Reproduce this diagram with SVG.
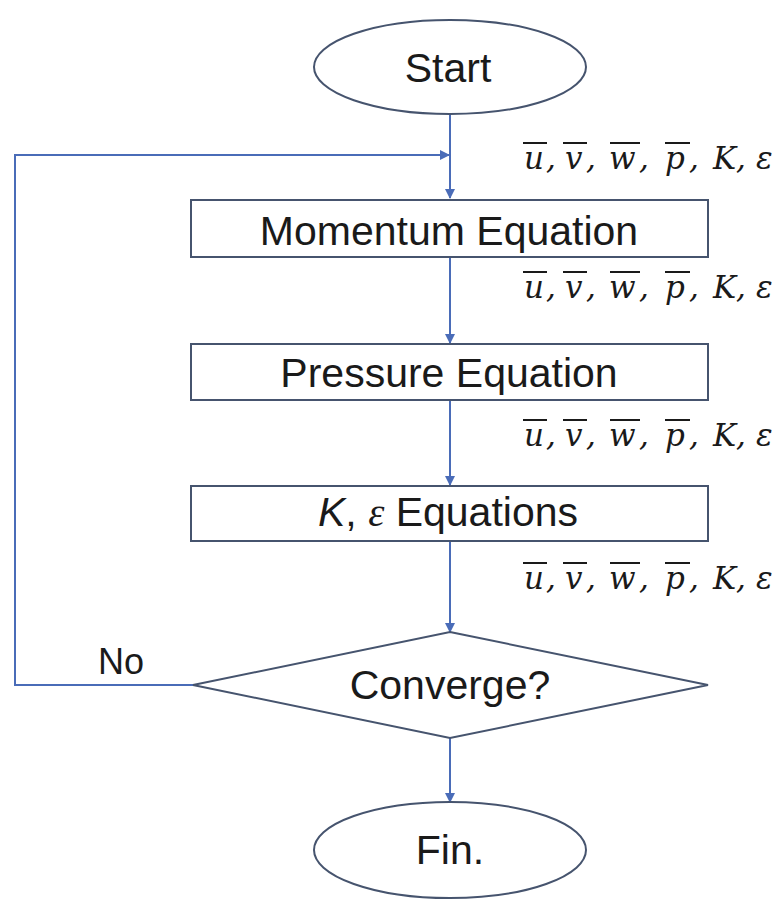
<svg xmlns="http://www.w3.org/2000/svg" width="783" height="903" viewBox="0 0 783 903">
<defs>
<style>
.node{fill:#ffffff;stroke:#46546e;stroke-width:2}
.lbl{font-family:"Liberation Sans",Arial,sans-serif;font-size:41px;fill:#1a1a1a;text-anchor:middle}
.conn{fill:none;stroke:#4a6cb8;stroke-width:2}
.var{font-family:"DejaVu Serif","Liberation Serif",serif;font-style:italic;font-size:31px;fill:#1a1a1a}
.bar{stroke:#1a1a1a;stroke-width:2}
</style>
<marker id="ah" markerWidth="10" markerHeight="10" refX="9" refY="5" orient="auto" markerUnits="userSpaceOnUse">
<path d="M0,0 L10,5 L0,10 Z" fill="#4a6cb8"/>
</marker>
<g id="vars">
<text class="var" x="1" y="0">u</text>
<text class="var" x="23" y="0">,</text>
<text class="var" x="42" y="0">v</text>
<text class="var" x="63" y="0">,</text>
<text class="var" x="86" y="0">w</text>
<text class="var" x="116" y="0">,</text>
<text class="var" x="142" y="0">p</text>
<text class="var" x="166" y="0">,</text>
<text class="var" x="190" y="0">K</text>
<text class="var" x="213" y="0">,</text>
<text class="var" x="233" y="0">ε</text>
<line class="bar" x1="0" y1="-26" x2="24" y2="-26"/>
<line class="bar" x1="40" y1="-26" x2="64" y2="-26"/>
<line class="bar" x1="87" y1="-26" x2="117" y2="-26"/>
<line class="bar" x1="142" y1="-26" x2="167" y2="-26"/>
</g>
</defs>
<rect width="783" height="903" fill="#ffffff"/>
<g id="connectors">
<line class="conn" x1="450" y1="114" x2="450" y2="198" marker-end="url(#ah)"/>
<polyline class="conn" points="193,685 15,685 15,155 449,155" marker-end="url(#ah)"/>
<line class="conn" x1="450" y1="257" x2="450" y2="343" marker-end="url(#ah)"/>
<line class="conn" x1="450" y1="400" x2="450" y2="485" marker-end="url(#ah)"/>
<line class="conn" x1="450" y1="541" x2="450" y2="632" marker-end="url(#ah)"/>
<line class="conn" x1="450" y1="738" x2="450" y2="802" marker-end="url(#ah)"/>
</g>
<g id="labels">
<use href="#vars" x="523" y="169"/>
<use href="#vars" x="523" y="298"/>
<use href="#vars" x="523" y="446"/>
<use href="#vars" x="523" y="589"/>
<text x="121" y="674" style="font-family:'Liberation Sans',Arial,sans-serif;font-size:36px;fill:#1a1a1a;text-anchor:middle">No</text>
</g>
<g id="start">
<ellipse class="node" cx="450" cy="67" rx="136" ry="47"/>
<text class="lbl" x="448" y="82">Start</text>
</g>
<g id="momentum">
<rect class="node" x="191" y="200" width="517" height="57"/>
<text class="lbl" x="449" y="245">Momentum Equation</text>
</g>
<g id="pressure">
<rect class="node" x="191" y="344" width="517" height="56"/>
<text class="lbl" x="449" y="387">Pressure Equation</text>
</g>
<g id="keps">
<rect class="node" x="191" y="486" width="517" height="55"/>
<text class="lbl" x="448" y="526"><tspan font-style="italic">K</tspan>, <tspan font-family="'Liberation Serif',serif" font-style="italic">ε</tspan> Equations</text>
</g>
<g id="converge">
<polygon class="node" points="450,632 708,685 450,738 193,685"/>
<text class="lbl" x="450" y="699">Converge?</text>
</g>
<g id="fin">
<ellipse class="node" cx="450" cy="850" rx="136" ry="48"/>
<text class="lbl" x="450" y="864">Fin.</text>
</g>
</svg>
